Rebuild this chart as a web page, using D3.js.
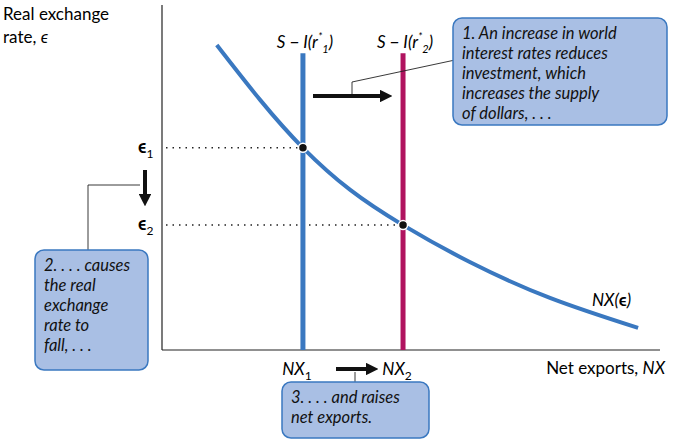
<!DOCTYPE html>
<html><head><meta charset="utf-8">
<script src="https://cdn.jsdelivr.net/npm/d3@7"></script>
<style>body{margin:0;background:#fff}svg{font-family:Lato,"Open Sans",sans-serif}</style>
</head><body>
<svg id="c" width="691" height="448"></svg>
<script>
// NX(e) curve (units: 0-100 on both axes)
const nxX = [11.0, 19.7, 28.3, 37.8, 48.4, 61.8, 77.9, 95.6];
const nxY = [88.4, 72.5, 58.6, 46.4, 36.2, 25.5, 15.1, 6.4];
const supplyX = [28.3, 48.4];
const equilY = [58.6, 36.2];
const supplyTop = 86;
const supplyColors = ['#3a78c0', '#b0135f'];
const supplyLabels = ['1', '2'];

const svg = d3.select('#c');
const x = d3.scaleLinear().domain([0, 100]).range([162, 660]);
const y = d3.scaleLinear().domain([0, 100]).range([350, 5]);
const blue = '#3a78c0';

// axes
svg.append('line').attr('x1', x(0)).attr('x2', x(0)).attr('y1', y(100)).attr('y2', y(0)).attr('stroke', '#222').attr('stroke-width', 1.2);
svg.append('line').attr('x1', x(0)).attr('x2', x(100)).attr('y1', y(0)).attr('y2', y(0)).attr('stroke', '#222').attr('stroke-width', 1.2);

svg.append('text').attr('x', 3).attr('y', 20).attr('font-size', 17).text('Real exchange');
const t = svg.append('text').attr('x', 3).attr('y', 43).attr('font-size', 17).text('rate, ');
t.append('tspan').attr('font-style', 'italic').text('ϵ');
const xl = svg.append('text').attr('x', 665).attr('y', 374).attr('text-anchor', 'end').attr('font-size', 17).text('Net exports, ');
xl.append('tspan').attr('font-style', 'italic').text('NX');

// dotted guides
equilY.forEach((v, i) => {
  svg.append('line').attr('x1', x(0) + 4).attr('x2', x(supplyX[i])).attr('y1', y(v)).attr('y2', y(v))
    .attr('stroke', '#222').attr('stroke-width', 1.5).attr('stroke-dasharray', '1.5,5');
  const e = svg.append('text').attr('x', 138).attr('y', y(v) + 5).attr('font-size', 18).attr('font-weight', 'bold').text('ϵ');
  e.append('tspan').attr('font-size', 12).attr('dy', 5).attr('font-weight', 'normal').text(supplyLabels[i]);
});

// supply lines
supplyX.forEach((v, i) => {
  svg.append('line').attr('x1', x(v)).attr('x2', x(v)).attr('y1', y(supplyTop)).attr('y2', y(0))
    .attr('stroke', supplyColors[i]).attr('stroke-width', 5);
  const lab = svg.append('text').attr('x', x(v) + 2).attr('y', 48).attr('text-anchor', 'middle').attr('font-size', 17).attr('font-style', 'italic');
  lab.append('tspan').text('S − I(r');
  lab.append('tspan').attr('font-size', 11).attr('dy', -7).text('*');
  lab.append('tspan').attr('font-size', 11).attr('dy', 12).text(supplyLabels[i]);
  lab.append('tspan').attr('dy', -5).text(')');
  const nl = svg.append('text').attr('x', x(v) - 6).attr('y', 375).attr('text-anchor', 'middle').attr('font-size', 17).attr('font-style', 'italic').text('NX');
  nl.append('tspan').attr('font-size', 12).attr('dy', 5).attr('font-style', 'normal').text(supplyLabels[i]);
});

// NX curve
svg.append('path').datum(nxX.map((d, i) => [d, nxY[i]]))
  .attr('d', d3.line().x(d => x(d[0])).y(d => y(d[1])).curve(d3.curveNatural))
  .attr('fill', 'none').attr('stroke', blue).attr('stroke-width', 4);
const nxl = svg.append('text').attr('x', 592).attr('y', 306).attr('font-size', 17).attr('font-style', 'italic').text('NX(');
nxl.append('tspan').attr('font-weight', 'bold').attr('font-style', 'normal').text('ϵ');
nxl.append('tspan').text(')');

// equilibrium dots
equilY.forEach((v, i) => {
  svg.append('circle').attr('cx', x(supplyX[i])).attr('cy', y(v)).attr('r', 4.5).attr('fill', '#111').attr('stroke', '#fff').attr('stroke-width', 1.5);
});

// arrows
svg.append('defs').append('marker').attr('id', 'ah').attr('viewBox', '0 0 10 10').attr('refX', 5).attr('refY', 5)
  .attr('markerWidth', 3.2).attr('markerHeight', 3.2).attr('orient', 'auto')
  .append('path').attr('d', 'M0,0L10,5L0,10z').attr('fill', '#111');
function arrow(x1, y1, x2, y2) {
  svg.append('line').attr('x1', x1).attr('y1', y1).attr('x2', x2).attr('y2', y2)
    .attr('stroke', '#111').attr('stroke-width', 4).attr('marker-end', 'url(#ah)');
}
arrow(313, 96, 386, 96);
arrow(145, 170, 145, 200);
arrow(336, 369, 372, 369);

// callout leaders
const lead = d => svg.append('path').attr('d', d).attr('fill', 'none').attr('stroke', '#222').attr('stroke-width', 0.9);
lead('M455,60L352,82L352,94');
lead('M88,251L88,185L140,185');
lead('M355,383L355,372');

// callout boxes
function box(x0, y0, w, h, lines, lh) {
  svg.append('rect').attr('x', x0).attr('y', y0).attr('width', w).attr('height', h).attr('rx', 9)
    .attr('fill', '#a9bfe4').attr('stroke', '#3a78c0').attr('stroke-width', 1.5);
  lines.forEach((s, i) => svg.append('text').attr('x', x0 + 9).attr('y', y0 + 21 + i * lh)
    .attr('font-size', 16.5).attr('font-style', 'italic').attr('fill', '#111').text(s));
}
box(453, 18, 214, 107, ['1. An increase in world', 'interest rates reduces', 'investment, which', 'increases the supply', 'of dollars, . . .'], 20);
box(35, 250, 113, 120, ['2. . . . causes', 'the real', 'exchange', 'rate to', 'fall, . . .'], 20);
box(282, 382, 147, 56, ['3. . . . and raises', 'net exports.'], 20);
</script>
</body></html>
